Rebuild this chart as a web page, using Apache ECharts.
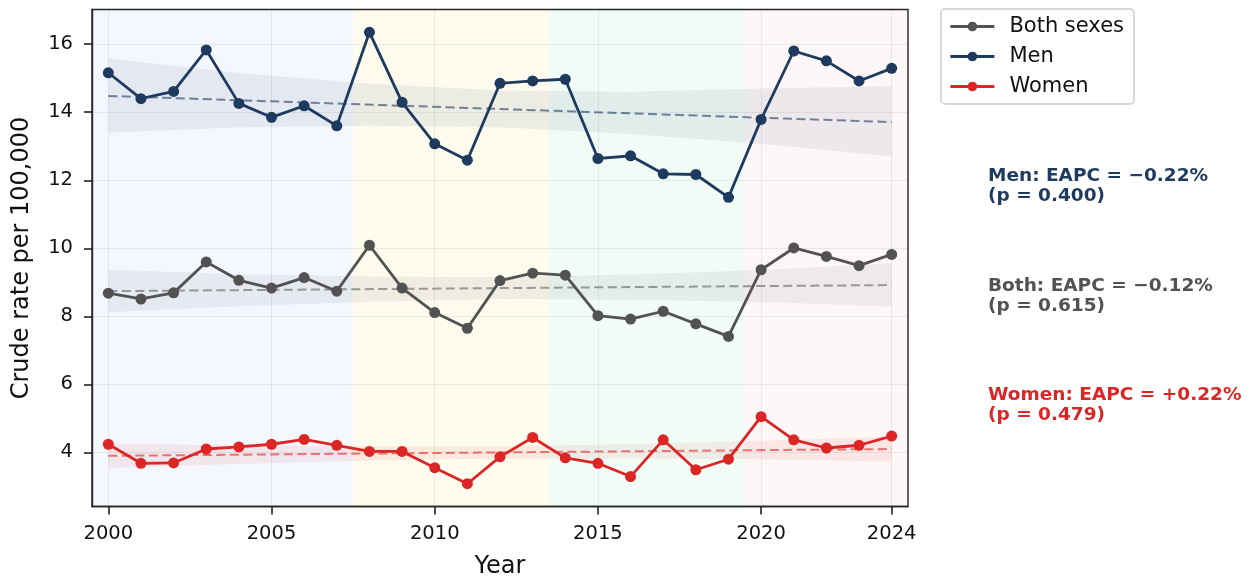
<!DOCTYPE html>
<html>
<head>
<meta charset="utf-8">
<script src="https://cdn.jsdelivr.net/npm/echarts@6/dist/echarts.min.js"></script>
<style>
  html, body { margin: 0; padding: 0; background: #ffffff; }
  #chart { width: 1253px; height: 580px; }
</style>
</head>
<body>
<div id="chart"></div>
<script>
// Crude rate per 100,000, by year
const years = [2000, 2001, 2002, 2003, 2004, 2005, 2006, 2007, 2008, 2009, 2010, 2011, 2012,
               2013, 2014, 2015, 2016, 2017, 2018, 2019, 2020, 2021, 2022, 2023, 2024];
const bothSexes = [8.68, 8.51, 8.69, 9.60, 9.06, 8.83, 9.14, 8.74, 10.09, 8.83, 8.11, 7.65, 9.05,
                   9.27, 9.21, 8.02, 7.92, 8.15, 7.78, 7.41, 9.37, 10.01, 9.76, 9.49, 9.82];
const men = [15.16, 14.40, 14.61, 15.83, 14.26, 13.85, 14.19, 13.60, 16.35, 14.29, 13.07, 12.59, 14.85,
             14.92, 14.97, 12.64, 12.72, 12.19, 12.17, 11.50, 13.79, 15.80, 15.51, 14.92, 15.29];
const women = [4.24, 3.68, 3.69, 4.10, 4.16, 4.24, 4.38, 4.21, 4.03, 4.03, 3.55, 3.08, 3.87,
               4.44, 3.84, 3.68, 3.29, 4.37, 3.49, 3.80, 5.05, 4.37, 4.13, 4.21, 4.48];

// Fitted trends (endpoints) and their confidence bands
const trendYears = [2000, 2024];
const menTrend = [14.48, 13.71];
const bothTrend = [8.74, 8.92];
const womenTrend = [3.90, 4.10];

const bandYears = [2000, 2004, 2008, 2012, 2016, 2020, 2024];
const menLower = [13.40, 13.56, 13.60, 13.56, 13.36, 13.07, 12.70];
const menUpper = [15.58, 15.15, 14.84, 14.64, 14.60, 14.70, 14.77];
const bothLower = [8.12, 8.30, 8.43, 8.51, 8.49, 8.42, 8.29];
const bothUpper = [9.37, 9.24, 9.17, 9.15, 9.23, 9.36, 9.56];
const womenLower = [3.55, 3.66, 3.76, 3.82, 3.82, 3.80, 3.73];
const womenUpper = [4.26, 4.20, 4.18, 4.18, 4.24, 4.34, 4.47];

// Shaded periods along the year axis
const periodBounds = [[1999.5, 2007.5], [2007.5, 2013.5], [2013.5, 2019.5], [2019.5, 2024.5]];

const xTicks = [2000, 2005, 2010, 2015, 2020, 2024];
const yTicks = [4, 6, 8, 10, 12, 14, 16];

const seriesNames = ['Both sexes', 'Men', 'Women'];
const eapcLines = [
  ['Men: EAPC = \u22120.22%', '(p = 0.400)'],
  ['Both: EAPC = \u22120.12%', '(p = 0.615)'],
  ['Women: EAPC = +0.22%', '(p = 0.479)']
];

// ---- styling ----
const FONT = 'DejaVu Sans';
const C_BOTH = '#525252';
const C_MEN = '#1e3a5f';
const C_WOMEN = '#dc2626';
const periodColors = ['rgba(55,110,215,0.055)', 'rgba(230,205,42,0.08)',
                      'rgba(42,217,130,0.065)', 'rgba(222,72,72,0.045)'];

const pairs = (xs, ys) => xs.map((x, i) => [x, ys[i]]);

function lineSeries(name, values, color, z) {
  return {
    name: name, type: 'line', z: z,
    data: pairs(years, values),
    symbol: 'circle', symbolSize: 11,
    itemStyle: { color: color },
    lineStyle: { color: color, width: 2.8 },
    emphasis: { disabled: true }
  };
}

function trendSeries(name, values, color) {
  return {
    name: name, type: 'line', z: 4, silent: true,
    data: pairs(trendYears, values),
    symbol: 'none',
    lineStyle: { color: color, width: 2, type: [9, 4.5] },
    emphasis: { disabled: true }
  };
}

function bandSeries(name, lower, upper, fill) {
  return {
    name: name, type: 'custom', z: 3, silent: true,
    data: [[bandYears[0], lower[0]]],
    renderItem: function (params, api) {
      const pts = bandYears.map((y, i) => api.coord([y, upper[i]]));
      for (let i = bandYears.length - 1; i >= 0; i--) {
        pts.push(api.coord([bandYears[i], lower[i]]));
      }
      return { type: 'polygon', shape: { points: pts }, style: { fill: fill, stroke: null } };
    }
  };
}

const chart = echarts.init(document.getElementById('chart'), null, { renderer: 'canvas' });

const noteColors = [C_MEN, C_BOTH, C_WOMEN];
const noteTops = [166, 276, 385];

chart.setOption({
  animation: false,
  backgroundColor: '#ffffff',
  textStyle: { fontFamily: FONT },
  grid: {
    left: 92, top: 9.5, width: 816, height: 497,
    outerBoundsMode: 'none', containLabel: false,
    show: true, borderColor: '#222222', borderWidth: 1.4, backgroundColor: 'transparent'
  },
  legend: {
    data: seriesNames,
    orient: 'vertical', left: 941, top: 9,
    itemWidth: 44, itemHeight: 12, itemGap: 9,
    padding: [7, 10, 7, 8],
    borderColor: '#cccccc', borderWidth: 1.5, borderRadius: 4,
    backgroundColor: '#ffffff',
    lineStyle: { width: 2.8 },
    textStyle: { fontSize: 21, fontFamily: FONT, color: '#111111', padding: [0, 0, 0, 10], lineHeight: 21 },
    selectedMode: false
  },
  xAxis: {
    type: 'value', min: 1999.5, max: 2024.5,
    name: 'Year', nameLocation: 'middle', nameGap: 48,
    nameTextStyle: { fontSize: 24, fontFamily: FONT, color: '#111111' },
    axisLine: { show: true, onZero: false, lineStyle: { color: '#222222', width: 1.4 } },
    axisTick: { show: true, length: 8, lineStyle: { color: '#222222', width: 1.6 }, customValues: xTicks },
    axisLabel: { fontSize: 19.5, color: '#111111', margin: 17, fontFamily: FONT,
                 customValues: xTicks, formatter: v => String(v) },
    splitLine: { show: true, lineStyle: { color: 'rgba(0,0,0,0.07)', width: 1 } }
  },
  yAxis: {
    type: 'value', min: 2.41, max: 17.02,
    name: 'Crude rate per 100,000', nameLocation: 'middle', nameGap: 58,
    nameTextStyle: { fontSize: 24, fontFamily: FONT, color: '#111111' },
    axisLine: { show: true, onZero: false, lineStyle: { color: '#222222', width: 1.4 } },
    axisTick: { show: true, length: 8, lineStyle: { color: '#222222', width: 1.6 }, customValues: yTicks },
    axisLabel: { fontSize: 19.5, color: '#111111', margin: 19, fontFamily: FONT,
                 customValues: yTicks, formatter: v => String(v) },
    splitLine: { show: true, lineStyle: { color: 'rgba(0,0,0,0.07)', width: 1 } }
  },
  series: [
    {
      name: 'periods', type: 'line', z: 1, silent: true,
      data: [[years[0], bothSexes[0]]], symbol: 'none', lineStyle: { opacity: 0 },
      markArea: {
        silent: true,
        data: periodBounds.map((b, i) => [
          { xAxis: b[0], itemStyle: { color: periodColors[i] } },
          { xAxis: b[1] }
        ])
      }
    },
    bandSeries('Men band', menLower, menUpper, 'rgba(30,58,95,0.075)'),
    bandSeries('Both band', bothLower, bothUpper, 'rgba(82,82,82,0.08)'),
    bandSeries('Women band', womenLower, womenUpper, 'rgba(220,38,38,0.08)'),
    trendSeries('Men trend', menTrend, 'rgba(30,58,95,0.6)'),
    trendSeries('Both trend', bothTrend, 'rgba(82,82,82,0.55)'),
    trendSeries('Women trend', womenTrend, 'rgba(220,38,38,0.6)'),
    lineSeries(seriesNames[0], bothSexes, C_BOTH, 6),
    lineSeries(seriesNames[1], men, C_MEN, 6),
    lineSeries(seriesNames[2], women, C_WOMEN, 6)
  ],
  graphic: eapcLines.map((lines, i) => ({
    type: 'text', left: 988, top: noteTops[i], silent: true,
    style: {
      text: lines.join('\n'),
      fill: noteColors[i],
      font: 'bold 18.5px "DejaVu Sans"',
      lineHeight: 20
    }
  }))
});
</script>
</body>
</html>
